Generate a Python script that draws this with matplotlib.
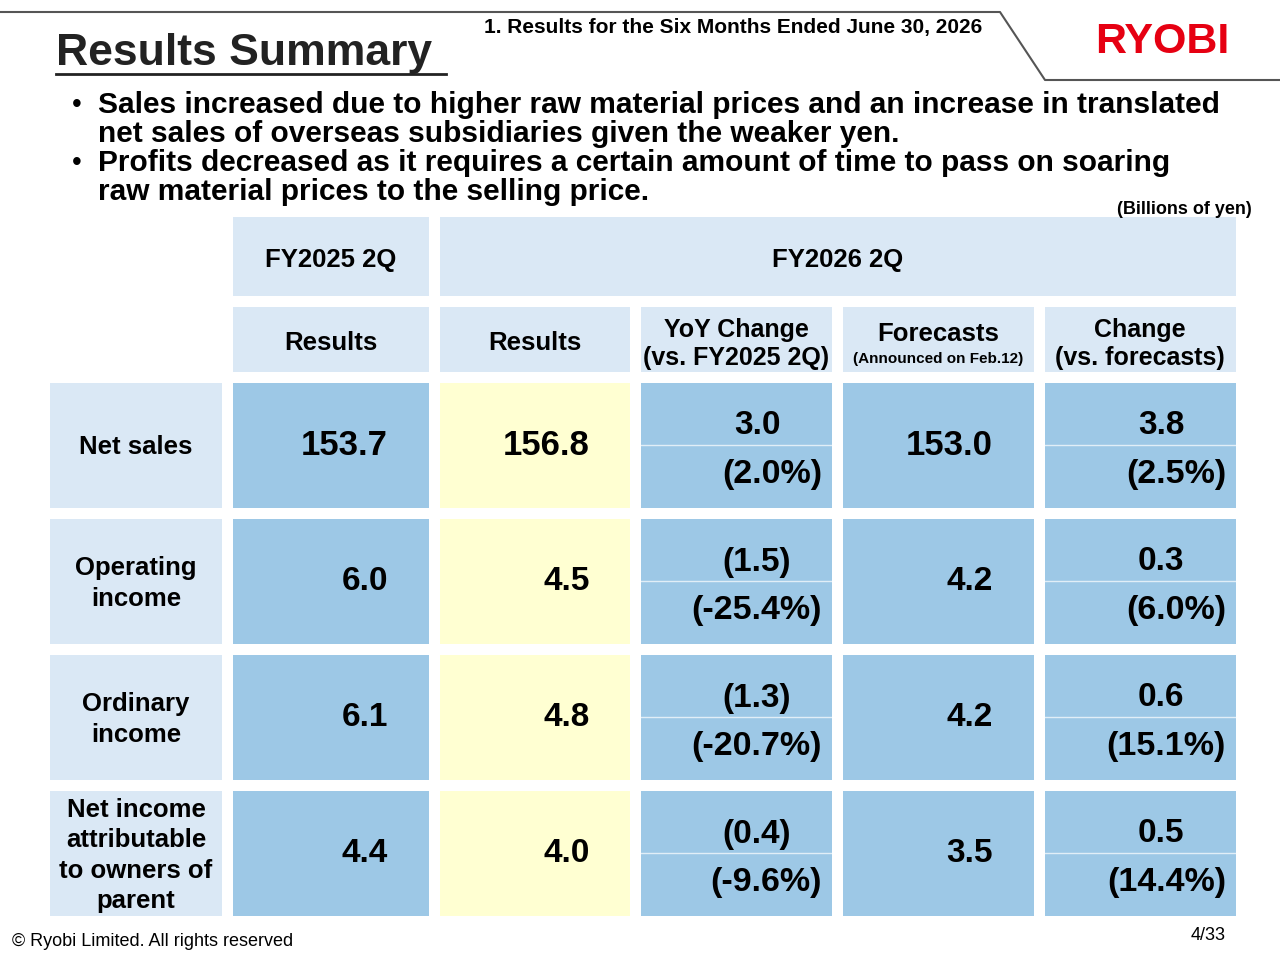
import matplotlib
matplotlib.use("Agg")
import matplotlib.pyplot as plt
from matplotlib.patches import Rectangle

row_labels = ["Net sales", "Operating\nincome", "Ordinary\nincome", "Net income\nattributable\nto owners of\nparent"]
fy2025 = ["153.7", "6.0", "6.1", "4.4"]
fy2026 = ["156.8", "4.5", "4.8", "4.0"]
yoy_amt = ["3.0", "(1.5)", "(1.3)", "(0.4)"]
yoy_pct = ["(2.0%)", "(-25.4%)", "(-20.7%)", "(-9.6%)"]
forecast = ["153.0", "4.2", "4.2", "3.5"]
chg_amt = ["3.8", "0.3", "0.6", "0.5"]
chg_pct = ["(2.5%)", "(6.0%)", "(15.1%)", "(14.4%)"]

plt.rcParams['font.family'] = ['Liberation Sans', 'DejaVu Sans']
LIGHT = "#DAE8F5"
BLUE = "#9DC8E6"
YELLOW = "#FFFFD2"

fig = plt.figure(figsize=(12.8, 9.6), dpi=100)
ax = fig.add_axes([0, 0, 1, 1])
ax.set_xlim(0, 1280)
ax.set_ylim(960, 0)
ax.axis("off")

def box(x0, y0, x1, y1, c):
    ax.add_patch(Rectangle((x0, y0), x1 - x0, y1 - y0, facecolor=c, edgecolor="none"))

# header decoration
ax.plot([0, 1000, 1045, 1280], [12, 12, 80, 80], color="#555555", lw=1.5)
ax.text(56, 54, "Results Summary", fontsize=32, fontweight="bold", va="center", color="#222222")
ax.plot([56, 446], [74, 74], color="#222222", lw=2)
ax.text(484, 28, "1. Results for the Six Months Ended June 30, 2026", fontsize=15, fontweight="bold", va="center")
ax.text(1162, 42, "RYOBI", fontsize=31, fontweight="heavy", color="#E60012", ha="center", va="center")

bul = [["Sales increased due to higher raw material prices and an increase in translated",
        "net sales of overseas subsidiaries given the weaker yen."],
       ["Profits decreased as it requires a certain amount of time to pass on soaring",
        "raw material prices to the selling price."]]
for i, lines in enumerate(bul):
    y = 105 + i * 58
    ax.text(72, y, "\u2022", fontsize=20, va="center")
    for j, t in enumerate(lines):
        ax.text(98, y + j * 29, t, fontsize=21.5, fontweight="bold", va="center")
ax.text(1252, 209, "(Billions of yen)", fontsize=13, fontweight="bold", ha="right", va="center")

cols = [(233, 429), (440, 630), (641, 832), (843, 1034), (1045, 1236)]
# header rows
box(233, 217, 429, 296, LIGHT)
ax.text(331, 260, "FY2025 2Q", fontsize=18.5, fontweight="bold", ha="center", va="center")
box(440, 217, 1236, 296, LIGHT)
ax.text(838, 260, "FY2026 2Q", fontsize=18.5, fontweight="bold", ha="center", va="center")
for (x0, x1) in cols:
    box(x0, 307, x1, 372, LIGHT)
ax.text(331, 343, "Results", fontsize=18.5, fontweight="bold", ha="center", va="center")
ax.text(535, 343, "Results", fontsize=18.5, fontweight="bold", ha="center", va="center")
ax.text(736, 344, "YoY Change\n(vs. FY2025 2Q)", fontsize=18, fontweight="bold", ha="center", va="center", linespacing=1.2)
ax.text(938, 334, "Forecasts", fontsize=18.5, fontweight="bold", ha="center", va="center")
ax.text(938, 359, "(Announced on Feb.12)", fontsize=11, fontweight="bold", ha="center", va="center")
ax.text(1140, 344, "Change\n(vs. forecasts)", fontsize=18, fontweight="bold", ha="center", va="center", linespacing=1.2)

for i in range(4):
    y0 = 383 + i * 136
    y1 = y0 + 125
    ym = (y0 + y1) / 2
    box(50, y0, 222, y1, LIGHT)
    ax.text(136, ym + 2, row_labels[i], fontsize=18.5, fontweight="bold", ha="center", va="center", linespacing=1.35)
    box(233, y0, 429, y1, BLUE)
    box(440, y0, 630, y1, YELLOW)
    box(641, y0, 832, y1, BLUE)
    box(843, y0, 1034, y1, BLUE)
    box(1045, y0, 1236, y1, BLUE)
    for x0, x1 in [(641, 832), (1045, 1236)]:
        ax.plot([x0, x1], [y0 + 62, y0 + 62], color="white", lw=1, alpha=0.7)
    big = 25 if i == 0 else 24
    ax.text(388, ym, fy2025[i], fontsize=big, fontweight="bold", ha="right", va="center")
    ax.text(590, ym, fy2026[i], fontsize=big, fontweight="bold", ha="right", va="center")
    ax.text(993, ym, forecast[i], fontsize=big, fontweight="bold", ha="right", va="center")
    ax.text(757, y0 + 43, yoy_amt[i], fontsize=24, fontweight="bold", ha="center", va="center")
    ax.text(822, y0 + 91, yoy_pct[i], fontsize=24.5, fontweight="bold", ha="right", va="center")
    ax.text(1161, y0 + 43, chg_amt[i], fontsize=24, fontweight="bold", ha="center", va="center")
    ax.text(1226, y0 + 91, chg_pct[i], fontsize=24.5, fontweight="bold", ha="right", va="center")

ax.text(12, 941, "\u00a9 Ryobi Limited. All rights reserved", fontsize=13, va="center")
ax.text(1226, 936, "4/33", fontsize=13, ha="right", va="center")

fig.savefig("out.png", dpi=100)
